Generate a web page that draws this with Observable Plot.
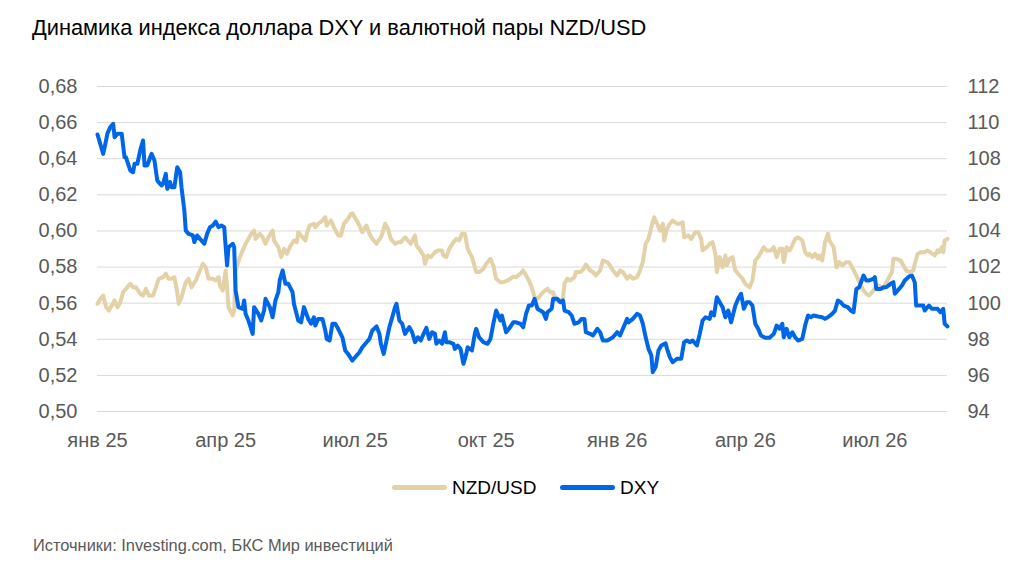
<!DOCTYPE html>
<html>
<head>
<meta charset="utf-8">
<script src="https://cdn.jsdelivr.net/npm/d3@7"></script>
<script src="https://cdn.jsdelivr.net/npm/@observablehq/plot@0.6"></script>
<style>
  body { margin: 0; background: #fff; }
  #wrap { position: relative; width: 1024px; height: 571px; background: #fff; font-family: "Liberation Sans", Arial, sans-serif; overflow: hidden; }
  #title { position: absolute; left: 32px; top: 15px; font-size: 21.8px; line-height: 26px; color: #000; white-space: nowrap; }
  #chart { position: absolute; left: 0; top: 0; }
  .sw { position: absolute; top: 485px; width: 55px; height: 5px; border-radius: 3px; }
  .lt { position: absolute; top: 476px; font-size: 19px; line-height: 23px; color: #000; white-space: nowrap; }
  #source { position: absolute; left: 33px; top: 535px; font-size: 16.4px; line-height: 20px; color: #595959; white-space: nowrap; }
</style>
</head>
<body>
<div id="wrap">
  <div id="title">Динамика индекса доллара DXY и валютной пары NZD/USD</div>
  <div id="chart"></div>
  <div class="sw" id="sw1" style="left:392px;"></div>
  <div class="lt" style="left:452px;">NZD/USD</div>
  <div class="sw" id="sw2" style="left:560px;"></div>
  <div class="lt" style="left:620px;">DXY</div>
  <div id="source">Источники: Investing.com, БКС Мир инвестиций</div>
</div>
<script>
const seriesNames = ["NZD/USD", "DXY"];
const seriesColors = ["#E3D2A7", "#0066E8"];

const xTickDates = ["2025-01-01","2025-04-01","2025-07-01","2025-10-01","2026-01-01","2026-04-01","2026-07-01"];
const xTickLabels = ["янв 25","апр 25","июл 25","окт 25","янв 26","апр 26","июл 26"];
const nzdTicks = [0.50,0.52,0.54,0.56,0.58,0.60,0.62,0.64,0.66,0.68];
const dxyTicks = [94,96,98,100,102,104,106,108,110,112];
const xDomain = ["2025-01-01","2026-08-21"];

const nzd = [
["2025-01-01",0.5597],["2025-01-03",0.5624],["2025-01-05",0.5642],["2025-01-07",0.5578],["2025-01-09",0.5559],["2025-01-11",0.5587],["2025-01-13",0.5615],["2025-01-15",0.5578],["2025-01-17",0.5605],["2025-01-19",0.5661],
["2025-01-21",0.5680],["2025-01-24",0.5707],["2025-01-26",0.5688],["2025-01-28",0.5688],["2025-01-31",0.5652],["2025-02-02",0.5642],["2025-02-04",0.5680],["2025-02-06",0.5642],["2025-02-09",0.5642],["2025-02-11",0.5688],
["2025-02-13",0.5735],["2025-02-16",0.5744],["2025-02-18",0.5763],["2025-02-20",0.5735],["2025-02-22",0.5735],["2025-02-24",0.5744],["2025-02-26",0.5661],["2025-02-27",0.5597],["2025-03-01",0.5633],["2025-03-04",0.5716],
["2025-03-06",0.5735],["2025-03-08",0.5688],["2025-03-11",0.5726],["2025-03-13",0.5763],["2025-03-16",0.5818],["2025-03-18",0.5799],["2025-03-20",0.5735],["2025-03-23",0.5735],["2025-03-25",0.5726],["2025-03-27",0.5744],
["2025-03-28",0.5698],["2025-03-30",0.5670],["2025-04-01",0.5781],["2025-04-02",0.5688],["2025-04-03",0.5578],["2025-04-06",0.5532],["2025-04-07",0.5559],["2025-04-08",0.5781],["2025-04-11",0.5855],["2025-04-13",0.5892],
["2025-04-15",0.5929],["2025-04-17",0.5956],["2025-04-19",0.5984],["2025-04-21",0.6002],["2025-04-22",0.5956],["2025-04-25",0.5984],["2025-04-27",0.5965],["2025-04-29",0.5929],["2025-05-01",0.5965],["2025-05-04",0.6002],
["2025-05-05",0.5947],["2025-05-08",0.5910],["2025-05-10",0.5855],["2025-05-12",0.5901],["2025-05-14",0.5873],["2025-05-16",0.5910],["2025-05-19",0.5947],["2025-05-21",0.5938],["2025-05-22",0.5993],["2025-05-27",0.5947],
["2025-05-28",0.5984],["2025-05-30",0.6030],["2025-06-02",0.6040],["2025-06-03",0.6021],["2025-06-05",0.6040],["2025-06-08",0.6058],["2025-06-10",0.6076],["2025-06-11",0.6030],["2025-06-14",0.6058],["2025-06-16",0.6021],
["2025-06-19",0.5975],["2025-06-21",0.5975],["2025-06-23",0.6040],["2025-06-26",0.6067],["2025-06-28",0.6095],["2025-06-29",0.6098],["2025-07-02",0.6058],["2025-07-04",0.6030],["2025-07-06",0.5993],["2025-07-08",0.6021],
["2025-07-09",0.6030],["2025-07-11",0.5984],["2025-07-13",0.5956],["2025-07-16",0.5929],["2025-07-19",0.5965],["2025-07-20",0.5984],["2025-07-22",0.6040],["2025-07-24",0.6012],["2025-07-26",0.5956],["2025-07-29",0.5929],
["2025-07-31",0.5938],["2025-08-02",0.5938],["2025-08-05",0.5965],["2025-08-07",0.5947],["2025-08-09",0.5929],["2025-08-12",0.5975],["2025-08-13",0.5919],["2025-08-15",0.5901],["2025-08-18",0.5864],["2025-08-19",0.5818],
["2025-08-21",0.5864],["2025-08-23",0.5855],["2025-08-26",0.5882],["2025-08-28",0.5892],["2025-08-31",0.5892],["2025-09-01",0.5864],["2025-09-03",0.5855],["2025-09-05",0.5901],["2025-09-08",0.5938],["2025-09-10",0.5956],
["2025-09-12",0.5947],["2025-09-14",0.5984],["2025-09-16",0.5984],["2025-09-18",0.5901],["2025-09-21",0.5855],["2025-09-22",0.5827],["2025-09-24",0.5772],["2025-09-26",0.5772],["2025-09-29",0.5790],["2025-10-01",0.5818],
["2025-10-04",0.5846],["2025-10-06",0.5809],["2025-10-08",0.5735],["2025-10-11",0.5716],["2025-10-13",0.5716],["2025-10-16",0.5726],["2025-10-18",0.5735],["2025-10-20",0.5748],["2025-10-22",0.5744],["2025-10-25",0.5763],
["2025-10-27",0.5781],["2025-10-29",0.5753],["2025-10-31",0.5726],["2025-11-02",0.5688],["2025-11-04",0.5633],["2025-11-06",0.5624],["2025-11-08",0.5642],["2025-11-10",0.5661],["2025-11-13",0.5680],["2025-11-15",0.5661],
["2025-11-17",0.5661],["2025-11-19",0.5615],["2025-11-22",0.5605],["2025-11-24",0.5633],["2025-11-25",0.5707],["2025-11-27",0.5735],["2025-11-29",0.5726],["2025-12-02",0.5744],["2025-12-03",0.5772],["2025-12-06",0.5772],
["2025-12-08",0.5785],["2025-12-10",0.5814],["2025-12-13",0.5781],["2025-12-15",0.5772],["2025-12-17",0.5753],["2025-12-20",0.5781],["2025-12-22",0.5836],["2025-12-25",0.5827],["2025-12-27",0.5809],["2025-12-29",0.5781],
["2026-01-01",0.5753],["2026-01-03",0.5781],["2026-01-05",0.5772],["2026-01-08",0.5735],["2026-01-10",0.5753],["2026-01-12",0.5735],["2026-01-15",0.5744],["2026-01-17",0.5781],["2026-01-19",0.5827],["2026-01-21",0.5929],
["2026-01-23",0.5956],["2026-01-25",0.6021],["2026-01-27",0.6076],["2026-01-29",0.6040],["2026-01-31",0.6002],["2026-02-02",0.6040],["2026-02-03",0.5947],["2026-02-05",0.6012],["2026-02-07",0.6040],["2026-02-09",0.6058],
["2026-02-12",0.6040],["2026-02-14",0.6040],["2026-02-16",0.6048],["2026-02-17",0.5965],["2026-02-20",0.5975],["2026-02-22",0.5956],["2026-02-25",0.5993],["2026-02-27",0.5993],["2026-03-01",0.5956],["2026-03-02",0.5892],
["2026-03-05",0.5910],["2026-03-07",0.5929],["2026-03-09",0.5938],["2026-03-11",0.5873],["2026-03-12",0.5772],["2026-03-14",0.5855],["2026-03-16",0.5799],["2026-03-18",0.5864],["2026-03-19",0.5809],["2026-03-21",0.5846],
["2026-03-23",0.5855],["2026-03-25",0.5781],["2026-03-28",0.5753],["2026-03-30",0.5735],["2026-04-01",0.5707],["2026-04-04",0.5688],["2026-04-06",0.5726],["2026-04-08",0.5836],["2026-04-10",0.5855],["2026-04-12",0.5882],
["2026-04-14",0.5910],["2026-04-16",0.5892],["2026-04-19",0.5892],["2026-04-21",0.5910],["2026-04-23",0.5855],["2026-04-25",0.5901],["2026-04-27",0.5901],["2026-04-28",0.5827],["2026-04-30",0.5910],["2026-05-02",0.5892],
["2026-05-04",0.5919],["2026-05-06",0.5956],["2026-05-08",0.5965],["2026-05-11",0.5947],["2026-05-13",0.5882],["2026-05-15",0.5864],["2026-05-16",0.5873],["2026-05-18",0.5855],["2026-05-20",0.5873],["2026-05-22",0.5846],
["2026-05-23",0.5864],["2026-05-25",0.5836],["2026-05-27",0.5938],["2026-05-29",0.5984],["2026-05-30",0.5947],["2026-06-02",0.5910],["2026-06-04",0.5799],["2026-06-06",0.5827],["2026-06-08",0.5809],["2026-06-11",0.5827],
["2026-06-13",0.5827],["2026-06-15",0.5799],["2026-06-18",0.5753],["2026-06-20",0.5716],["2026-06-23",0.5670],["2026-06-25",0.5652],["2026-06-27",0.5642],["2026-06-30",0.5670],["2026-07-02",0.5698],["2026-07-04",0.5698],
["2026-07-07",0.5680],["2026-07-09",0.5716],["2026-07-11",0.5744],["2026-07-13",0.5772],["2026-07-14",0.5846],["2026-07-16",0.5846],["2026-07-19",0.5836],["2026-07-21",0.5809],["2026-07-23",0.5781],["2026-07-25",0.5772],
["2026-07-28",0.5781],["2026-07-29",0.5818],["2026-07-31",0.5873],["2026-08-02",0.5882],["2026-08-05",0.5882],["2026-08-07",0.5892],["2026-08-09",0.5882],["2026-08-12",0.5864],["2026-08-14",0.5892],["2026-08-15",0.5882],
["2026-08-17",0.5910],["2026-08-18",0.5882],["2026-08-19",0.5947],["2026-08-21",0.5956]
];

const dxy = [
["2025-01-01",109.34],["2025-01-05",108.27],["2025-01-07",109.01],["2025-01-08",109.40],["2025-01-10",109.75],["2025-01-12",109.93],["2025-01-13",109.19],["2025-01-15",109.38],["2025-01-18",109.38],["2025-01-20",108.08],
["2025-01-21",108.08],["2025-01-24",107.35],["2025-01-26",107.25],["2025-01-27",107.72],["2025-01-29",107.72],["2025-01-31",108.46],["2025-02-02",109.01],["2025-02-03",107.63],["2025-02-05",107.63],["2025-02-07",108.08],
["2025-02-08",108.27],["2025-02-10",107.90],["2025-02-12",106.79],["2025-02-15",106.52],["2025-02-16",106.61],["2025-02-18",107.16],["2025-02-19",106.33],["2025-02-21",106.70],["2025-02-22",106.42],["2025-02-24",106.42],
["2025-02-26",107.53],["2025-02-28",107.25],["2025-03-01",106.42],["2025-03-03",105.13],["2025-03-04",104.02],["2025-03-06",103.84],["2025-03-09",103.75],["2025-03-10",103.38],["2025-03-12",103.75],["2025-03-14",103.56],
["2025-03-17",103.29],["2025-03-19",103.84],["2025-03-21",104.21],["2025-03-23",104.30],["2025-03-25",104.52],["2025-03-27",104.21],["2025-03-29",104.30],["2025-03-31",104.21],["2025-04-02",102.09],["2025-04-03",103.10],
["2025-04-06",103.29],["2025-04-07",103.10],["2025-04-08",100.70],["2025-04-10",99.78],["2025-04-13",99.69],["2025-04-14",100.15],["2025-04-15",99.41],["2025-04-17",99.04],["2025-04-20",98.30],["2025-04-21",99.78],
["2025-04-24",99.41],["2025-04-26",99.04],["2025-04-28",99.59],["2025-04-29",100.24],["2025-05-02",99.78],["2025-05-04",99.22],["2025-05-06",100.15],["2025-05-08",100.61],["2025-05-09",101.26],["2025-05-11",101.81],
["2025-05-13",101.07],["2025-05-15",101.07],["2025-05-18",100.61],["2025-05-19",99.96],["2025-05-22",99.04],["2025-05-24",98.94],["2025-05-26",99.78],["2025-05-29",99.13],["2025-05-31",98.86],["2025-06-02",99.22],
["2025-06-03",98.76],["2025-06-05",99.13],["2025-06-08",99.13],["2025-06-10",98.49],["2025-06-11",98.02],["2025-06-13",97.93],["2025-06-15",98.86],["2025-06-17",98.86],["2025-06-19",98.58],["2025-06-22",98.11],
["2025-06-24",97.38],["2025-06-26",97.19],["2025-06-29",96.82],["2025-07-02",97.10],["2025-07-04",97.28],["2025-07-06",97.56],["2025-07-09",97.84],["2025-07-11",98.02],["2025-07-13",98.49],["2025-07-16",98.71],
["2025-07-18",98.30],["2025-07-19",97.75],["2025-07-21",97.19],["2025-07-23",97.93],["2025-07-25",98.67],["2025-07-27",99.22],["2025-07-29",99.78],["2025-07-30",99.96],["2025-08-01",99.04],["2025-08-03",98.86],
["2025-08-05",98.30],["2025-08-08",98.67],["2025-08-10",98.39],["2025-08-12",97.84],["2025-08-14",98.11],["2025-08-16",97.93],["2025-08-18",98.30],["2025-08-20",98.63],["2025-08-22",98.02],["2025-08-24",98.39],
["2025-08-26",98.30],["2025-08-27",97.75],["2025-08-29",97.93],["2025-08-31",97.75],["2025-09-02",98.39],["2025-09-03",97.84],["2025-09-05",97.84],["2025-09-08",97.75],["2025-09-09",97.47],["2025-09-11",97.65],
["2025-09-13",97.47],["2025-09-15",96.64],["2025-09-17",97.19],["2025-09-18",97.56],["2025-09-21",97.38],["2025-09-23",98.30],["2025-09-24",98.58],["2025-09-26",98.11],["2025-09-29",97.84],["2025-10-02",97.75],
["2025-10-04",98.02],["2025-10-06",98.86],["2025-10-08",99.59],["2025-10-11",99.04],["2025-10-12",99.32],["2025-10-15",98.39],["2025-10-17",98.58],["2025-10-20",98.94],["2025-10-22",98.94],["2025-10-25",98.86],
["2025-10-27",98.67],["2025-10-29",99.41],["2025-10-31",99.87],["2025-11-02",99.87],["2025-11-04",100.24],["2025-11-06",99.69],["2025-11-08",99.59],["2025-11-10",99.50],["2025-11-12",99.13],["2025-11-13",99.50],
["2025-11-16",99.69],["2025-11-17",100.24],["2025-11-20",100.24],["2025-11-22",100.05],["2025-11-24",100.15],["2025-11-25",99.59],["2025-11-28",99.50],["2025-11-30",99.32],["2025-12-02",98.86],["2025-12-05",98.94],
["2025-12-07",99.13],["2025-12-09",99.13],["2025-12-10",98.39],["2025-12-13",98.30],["2025-12-15",98.21],["2025-12-18",98.58],["2025-12-20",98.39],["2025-12-22",97.93],["2025-12-25",97.93],["2025-12-27",98.02],
["2025-12-29",98.11],["2026-01-01",98.39],["2026-01-03",98.21],["2026-01-05",98.58],["2026-01-08",99.13],["2026-01-09",98.94],["2026-01-12",99.13],["2026-01-15",99.41],["2026-01-17",99.32],["2026-01-19",98.86],
["2026-01-21",98.11],["2026-01-23",97.47],["2026-01-25",97.10],["2026-01-26",96.18],["2026-01-28",96.46],["2026-01-30",97.38],["2026-02-01",97.66],["2026-02-04",97.78],["2026-02-05",97.47],["2026-02-07",97.01],
["2026-02-09",96.73],["2026-02-12",96.92],["2026-02-15",96.92],["2026-02-17",97.84],["2026-02-19",97.93],["2026-02-21",97.84],["2026-02-23",97.93],["2026-02-26",97.66],["2026-02-28",98.30],["2026-03-02",99.04],
["2026-03-04",99.22],["2026-03-07",99.13],["2026-03-08",99.50],["2026-03-10",99.32],["2026-03-12",100.33],["2026-03-14",100.05],["2026-03-16",99.78],["2026-03-18",99.22],["2026-03-20",99.59],["2026-03-22",98.94],
["2026-03-25",99.87],["2026-03-27",100.24],["2026-03-29",100.52],["2026-03-31",99.69],["2026-04-02",100.05],["2026-04-04",100.05],["2026-04-06",99.87],["2026-04-08",98.86],["2026-04-10",98.58],["2026-04-12",98.21],
["2026-04-15",98.08],["2026-04-18",98.08],["2026-04-21",98.30],["2026-04-23",98.76],["2026-04-25",98.58],["2026-04-27",98.86],["2026-04-28",98.11],["2026-04-30",98.58],["2026-05-02",98.11],["2026-05-04",98.39],
["2026-05-06",98.11],["2026-05-08",97.93],["2026-05-11",98.02],["2026-05-13",98.76],["2026-05-15",99.32],["2026-05-17",99.22],["2026-05-19",99.32],["2026-05-22",99.26],["2026-05-25",99.22],["2026-05-27",99.13],
["2026-05-29",99.22],["2026-06-01",99.41],["2026-06-03",99.59],["2026-06-05",100.15],["2026-06-07",100.05],["2026-06-09",99.87],["2026-06-12",99.78],["2026-06-14",99.59],["2026-06-16",99.50],["2026-06-18",100.79],
["2026-06-20",100.88],["2026-06-23",101.53],["2026-06-25",101.26],["2026-06-27",101.26],["2026-06-30",101.35],["2026-07-01",101.44],["2026-07-02",100.79],["2026-07-05",100.79],["2026-07-07",100.88],["2026-07-09",100.88],
["2026-07-12",101.07],["2026-07-14",101.16],["2026-07-15",100.52],["2026-07-18",100.79],["2026-07-20",100.98],["2026-07-22",101.26],["2026-07-25",101.48],["2026-07-27",101.53],["2026-07-29",101.16],["2026-07-30",99.87],
["2026-08-01",99.87],["2026-08-04",99.87],["2026-08-05",99.59],["2026-08-08",99.87],["2026-08-10",99.69],["2026-08-12",99.69],["2026-08-14",99.69],["2026-08-16",99.50],["2026-08-18",99.69],["2026-08-19",98.86],
["2026-08-21",98.71]
];

// Map the right (DXY) scale onto the left (NZD/USD) scale: both axes share gridlines.
const dMin = dxyTicks[0], dMax = dxyTicks[dxyTicks.length - 1];
const nMin = nzdTicks[0], nMax = nzdTicks[nzdTicks.length - 1];
const toLeft = v => nMin + (v - dMin) * (nMax - nMin) / (dMax - dMin);

const xTicks = xTickDates.map(s => new Date(s));
const xLabelMap = new Map(xTicks.map((d, i) => [d.getTime(), xTickLabels[i]]));
const nzdFmt = d => d.toFixed(2).replace(".", ",");
const dxyFmt = d => {
  const i = nzdTicks.findIndex(t => Math.abs(t - d) < 1e-9);
  return String(dxyTicks[i]);
};

document.getElementById("sw1").style.background = seriesColors[0];
document.getElementById("sw2").style.background = seriesColors[1];

const chart = Plot.plot({
  width: 1024,
  height: 460,
  marginTop: 86,
  marginBottom: 49,
  marginLeft: 97,
  marginRight: 77,
  style: { fontFamily: "'Liberation Sans', Arial, sans-serif", fontSize: "20px", color: "#595959", background: "transparent", overflow: "visible" },
  x: { type: "utc", domain: xDomain.map(s => new Date(s)) },
  y: { domain: [nMin, nMax] },
  marks: [
    Plot.gridY(nzdTicks, { stroke: "#d9d9d9", strokeOpacity: 1, strokeWidth: 1 }),
    Plot.axisY(nzdTicks, { anchor: "left", tickSize: 0, tickPadding: 20, tickFormat: nzdFmt, label: null, fontSize: 20 }),
    Plot.axisY(nzdTicks, { anchor: "right", tickSize: 0, tickPadding: 20, tickFormat: dxyFmt, label: null, fontSize: 20 }),
    Plot.axisX(xTicks, { tickSize: 0, tickPadding: 21, tickFormat: d => xLabelMap.get(d.getTime()), label: null, fontSize: 20 }),
    Plot.lineY(nzd, { x: d => new Date(d[0]), y: d => d[1], stroke: seriesColors[0], strokeWidth: 4, strokeLinejoin: "round", strokeLinecap: "round" }),
    Plot.lineY(dxy, { x: d => new Date(d[0]), y: d => toLeft(d[1]), stroke: seriesColors[1], strokeWidth: 4, strokeLinejoin: "round", strokeLinecap: "round" })
  ]
});
document.getElementById("chart").appendChild(chart);
</script>
</body>
</html>
